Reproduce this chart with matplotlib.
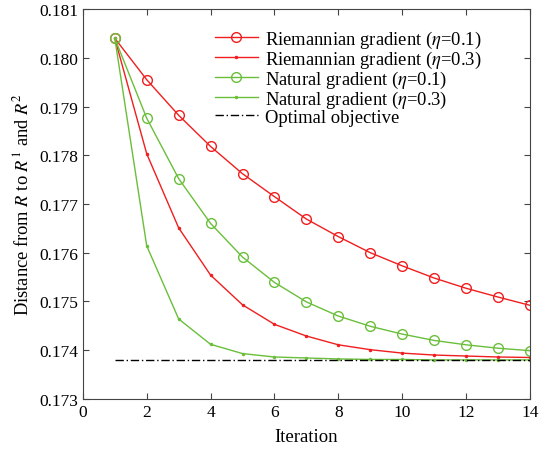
import matplotlib
matplotlib.use("Agg")
import matplotlib.pyplot as plt

plt.rcParams['font.family'] = ['Liberation Serif', 'DejaVu Serif']
plt.rcParams['mathtext.fontset'] = 'stix'

iterations = list(range(1, 15))
riem_01 = [0.18040, 0.17955, 0.17882, 0.17818, 0.17762, 0.17715, 0.17669, 0.17633,
           0.17600, 0.17573, 0.17548, 0.17527, 0.17509, 0.17492]
riem_03 = [0.18040, 0.17803, 0.17651, 0.17554, 0.17493, 0.17453, 0.17429, 0.17411,
           0.17401, 0.17394, 0.17390, 0.17388, 0.17386, 0.17385]
nat_01 = [0.18040, 0.17876, 0.17752, 0.17660, 0.17591, 0.17539, 0.17499, 0.17470,
          0.17449, 0.17433, 0.17420, 0.17411, 0.17404, 0.17399]
nat_03 = [0.18040, 0.17614, 0.17464, 0.17412, 0.17393, 0.17386, 0.17384, 0.17382,
          0.17381, 0.17381, 0.17380, 0.17380, 0.17380, 0.17380]
optimal = 0.17380
labels = ["Riemannian gradient ($\\it{\\eta}$=0.1)", "Riemannian gradient ($\\it{\\eta}$=0.3)",
          "Natural gradient ($\\it{\\eta}$=0.1)", "Natural gradient ($\\it{\\eta}$=0.3)",
          "Optimal objective"]
xticks = list(range(0, 15, 2))
yticks = [0.173, 0.174, 0.175, 0.176, 0.177, 0.178, 0.179, 0.180, 0.181]

red = '#f01e1e'
green = '#6abf3a'

fig = plt.figure(figsize=(5.45, 4.56), dpi=100)
ax = fig.add_axes([0.152, 0.123, 0.8205, 0.855])

ax.plot(iterations, riem_01, color=red, lw=1.0, marker='o', ms=7, mfc='none', mew=1.0, label=labels[0])
ax.plot(iterations, riem_03, color=red, lw=1.0, marker='.', ms=3, label=labels[1])
ax.plot(iterations, nat_01, color=green, lw=1.0, marker='o', ms=7, mfc='none', mew=1.0, label=labels[2])
ax.plot(iterations, nat_03, color=green, lw=1.0, marker='.', ms=3, label=labels[3])
ax.plot([iterations[0], iterations[-1]], [optimal, optimal], color='black', lw=1.0,
        ls=(0, (6, 2, 1, 2)), label=labels[4])

ax.set_xlim(0, 14)
ax.set_ylim(0.173, 0.181)
ax.set_xticks(xticks)
ax.set_yticks(yticks)
ax.set_yticklabels([f"{v:.3f}" for v in yticks])
ax.tick_params(direction='in', top=True, right=True, labelsize=12.5, length=4, color='#444444')
for s in ax.spines.values():
    s.set_color('#444444')
    s.set_linewidth(0.8)
ax.set_xlabel("Iteration", fontsize=13.5, labelpad=6)
ax.set_ylabel("Distance from $\\it{R}$ to $\\it{R}^{\\rm 1}$ and $\\it{R}^{\\rm 2}$", fontsize=13.3, labelpad=5)

leg = ax.legend(loc='upper left', frameon=False, fontsize=13.4, handlelength=2.3,
                handletextpad=0.4, labelspacing=-0.056, borderaxespad=0.0, borderpad=0.0,
                bbox_to_anchor=(0.295, 0.95))

fig.savefig("out.png", dpi=100)
